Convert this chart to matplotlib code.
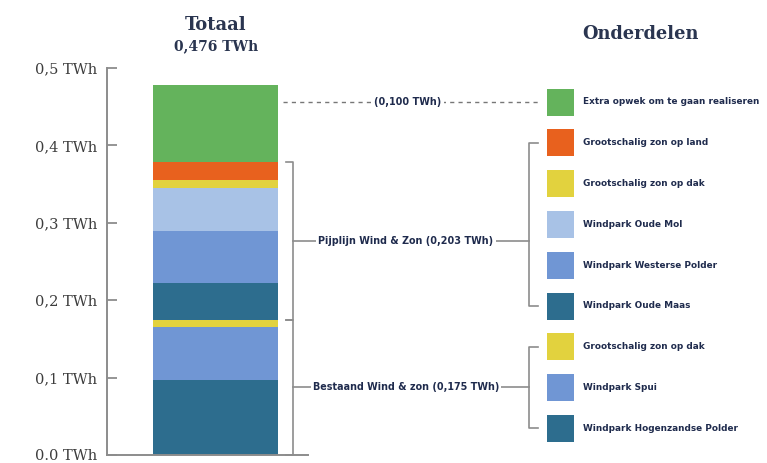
import numpy as np
import matplotlib.pyplot as plt
from matplotlib import transforms
from matplotlib.patches import Rectangle

# stack, bottom to top
labels = ['Windpark Hogenzandse Polder', 'Windpark Spui', 'Grootschalig zon op dak',
          'Windpark Oude Maas', 'Windpark Westerse Polder', 'Windpark Oude Mol',
          'Grootschalig zon op dak', 'Grootschalig zon op land',
          'Extra opwek om te gaan realiseren']
values = [0.097, 0.069, 0.009, 0.047, 0.068, 0.055, 0.010, 0.023, 0.100]
colors = ['#2d6d8e', '#7096d4', '#e2d23e', '#2d6d8e', '#7096d4', '#a8c2e6',
          '#e2d23e', '#e8611e', '#64b35c']
group_names = ['Bestaand Wind & zon (0,175 TWh)', 'Pijplijn Wind & Zon (0,203 TWh)',
               '(0,100 TWh)']
group_sizes = [3, 5, 1]
yticks = [0.0, 0.1, 0.2, 0.3, 0.4, 0.5]
yticklabels = ['0.0 TWh', '0,1 TWh', '0,2 TWh', '0,3 TWh', '0,4 TWh', '0,5 TWh']
total_label = '0,476 TWh'

W, H = 767, 463
navy = '#1f2b4d'
grey = '#8c8c8c'
small = dict(fontsize=6.9, fontweight='bold', color=navy, family='DejaVu Sans')

fig = plt.figure(figsize=(W / 100, H / 100), dpi=100)
ax = fig.add_axes([107 / W, 1 - 455 / H, 201 / W, 387 / H])

bottoms = np.concatenate([[0], np.cumsum(values)[:-1]])
ax.bar(0.54, values, width=0.62, bottom=bottoms, color=colors, linewidth=0)
ax.set_xlim(0, 1)
ax.set_ylim(0, 0.5)
ax.set_xticks([])
ax.set_yticks(yticks)
ax.set_yticklabels(yticklabels, family='DejaVu Serif', fontsize=10.5, color='#3d3d3d')
ax.tick_params(axis='y', direction='in', length=7, width=1.3, color=grey, pad=7)
for s in ['top', 'right']:
    ax.spines[s].set_visible(False)
for s in ['left', 'bottom']:
    ax.spines[s].set_color(grey)
    ax.spines[s].set_linewidth(1.4)

def px(x):
    return x / W

def py(y):
    return 1 - y / H

tr = transforms.blended_transform_factory(fig.transFigure, ax.transData)
lkw = dict(color=grey, lw=1.2, clip_on=False)

# legend
cys = [102 + i * 40.8 for i in range(len(labels))]
order = list(range(len(labels)))[::-1]
for cy, k in zip(cys, order):
    fig.add_artist(Rectangle((px(547), py(cy + 13.5)), 27 / W, 27 / H,
                             transform=fig.transFigure, color=colors[k], lw=0))
    fig.text(px(583), py(cy), labels[k], va='center', ha='left', fontsize=6.4,
             fontweight='bold', color=navy, family='DejaVu Sans')

# brackets
cum = np.cumsum(values)
starts = np.cumsum([0] + group_sizes[:-1])
for g in range(2):
    i0 = starts[g]
    i1 = i0 + group_sizes[g]
    y0 = bottoms[i0]
    y1 = cum[i1 - 1]
    ym = (y0 + y1) / 2
    ax.plot([px(286), px(293), px(293), px(286)], [y1, y1, y0, y0], transform=tr, **lkw)
    ax.plot([px(293), px(529)], [ym, ym], transform=tr, **lkw)
    ax.text(px(406), ym, group_names[g], transform=tr, ha='center', va='center',
            bbox=dict(fc='white', ec='none', pad=1.5), **small)
    # right bracket towards legend items
    li = [len(labels) - 1 - (i1 - 1), len(labels) - 1 - i0]
    ytop, ybot = cys[li[0]], cys[li[1]]
    fig.add_artist(plt.Line2D([px(538), px(529), px(529), px(538)],
                              [py(ytop), py(ytop), py(ybot), py(ybot)],
                              transform=fig.transFigure, color=grey, lw=1.2))

# extra (dashed)
fig.add_artist(plt.Line2D([px(283), px(540)], [py(cys[0]), py(cys[0])],
                          transform=fig.transFigure, color='#777777', lw=1.0,
                          ls=(0, (3, 3))))
fig.text(px(408), py(cys[0]), group_names[2], ha='center', va='center',
         bbox=dict(fc='white', ec='none', pad=1.5), **small)

# titles
fig.text(px(216), py(25), 'Totaal', ha='center', va='center', fontsize=13,
         fontweight='bold', family='DejaVu Serif', color='#2a3550')
fig.text(px(216), py(46), total_label, ha='center', va='center', fontsize=10,
         fontweight='bold', family='DejaVu Serif', color='#2a3550')
fig.text(px(640), py(34), 'Onderdelen', ha='center', va='center', fontsize=12.8,
         fontweight='bold', family='DejaVu Serif', color='#2a3550')

fig.savefig('out.png', dpi=100)
